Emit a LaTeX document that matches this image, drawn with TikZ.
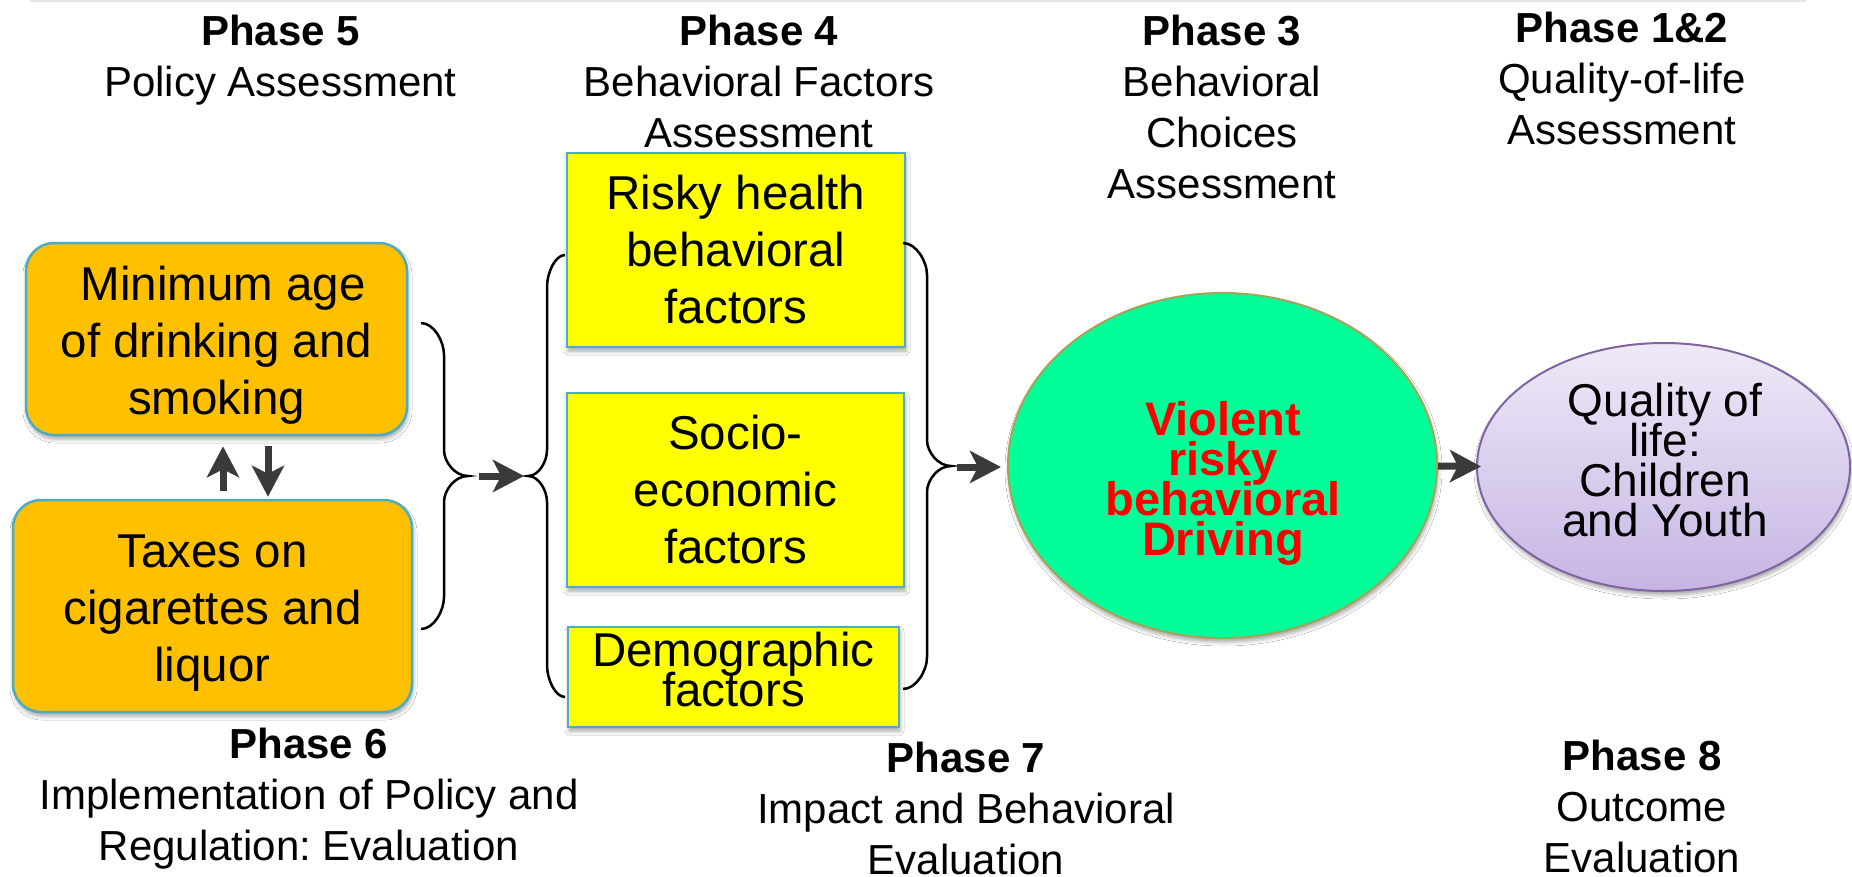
\documentclass[tikz,border=0pt]{standalone}
\usepackage{fontspec}
\setmainfont{Liberation Sans}
\usetikzlibrary{arrows.meta,calc,shapes.geometric,shadows.blur}
\frenchspacing

\definecolor{policyfill}{HTML}{FFC000}
\definecolor{factorfill}{HTML}{FFFF00}
\definecolor{boxedge}{HTML}{4BACC6}
\definecolor{choicefill}{HTML}{00FF99}
\definecolor{choiceedge}{HTML}{A3A35A}
\definecolor{lifetop}{HTML}{EFE9F7}
\definecolor{lifebottom}{HTML}{C6B5E4}
\definecolor{lifeedge}{HTML}{8064A2}
\definecolor{arrowgrey}{HTML}{3A3A3A}
\definecolor{ruleline}{HTML}{E6E6E6}

% lines closer together than the font's natural leading
\newcommand\tightlines{\lineskiplimit=-100pt\relax}
% invisible struts that shift a text block inside its box
\newcommand\liftline{\rule{0pt}{46pt}}
\newcommand\dropline{\rule[-14.6pt]{0pt}{0pt}}

\tikzset{
  heading/.style={anchor=base, inner sep=0pt, font=\fontsize{42}{51}\selectfont},
  softshadow/.style={blur shadow={shadow xshift=1pt, shadow yshift=-4pt,
      shadow blur radius=4pt, shadow opacity=35}},
  boxtext/.style={align=center, inner sep=0pt,
      font=\fontsize{47.5}{57}\selectfont\tightlines},
  policybox/.style={boxtext, draw=boxedge, line width=2.5pt, fill=policyfill,
      rounded corners=28pt, softshadow},
  factorbox/.style={boxtext, draw=boxedge, line width=2pt, fill=factorfill, softshadow},
  ovaltext/.style={align=center, inner sep=0pt,
      font=\fontsize{47}{40}\selectfont\tightlines},
  flowarrow/.style={draw=arrowgrey, line width=7pt,
      -{Stealth[length=31pt, width=32pt, inset=8pt]}},
  bracestroke/.style={draw=black, line width=2.5pt},
}

\begin{document}
\begin{tikzpicture}[x=1pt, y=-1pt]
\fill[white] (0,0) rectangle (1852,876);
\useasboundingbox (0,0) rectangle (1852,876);
\draw[ruleline, line width=2pt] (30,1) -- (1806,1);

% phase headings, top row
\node[heading] (ph5) at (280.5,45)
  {\begin{tabular}[t]{@{}c@{}}\textbf{Phase 5}\\Policy Assessment\end{tabular}};
\node[heading] (ph4) at (759,45)
  {\begin{tabular}[t]{@{}c@{}}\textbf{Phase 4}\\Behavioral Factors\\Assessment\end{tabular}};
\node[heading] (ph3) at (1222,45)
  {\begin{tabular}[t]{@{}c@{}}\textbf{Phase 3}\\Behavioral\\Choices\\Assessment\end{tabular}};
\node[heading] (ph12) at (1622,42)
  {\begin{tabular}[t]{@{}c@{}}\textbf{Phase 1\&2}\\Quality-of-life\\Assessment\end{tabular}};

% phase headings, bottom row
\node[heading] (ph6) at (309,758)
  {\begin{tabular}[t]{@{}c@{}}\textbf{Phase 6}\\Implementation of Policy and\\Regulation: Evaluation\end{tabular}};
\node[heading] (ph7) at (966,772)
  {\begin{tabular}[t]{@{}c@{}}\textbf{Phase 7}\\Impact and Behavioral\\Evaluation\end{tabular}};
\node[heading] (ph8) at (1642,770)
  {\begin{tabular}[t]{@{}c@{}}\textbf{Phase 8}\\Outcome\\Evaluation\end{tabular}};

% policy boxes
\node[policybox, minimum width=381pt, minimum height=192pt] (agebox) at (216.5,339)
  {~Minimum age\liftline\\of drinking and\\smoking};
\node[policybox, minimum width=399pt, minimum height=212pt] (taxbox) at (212.5,606)
  {Taxes on\liftline\\cigarettes and\\liquor};

% factor boxes
\node[factorbox, minimum width=338pt, minimum height=194pt] (riskbox) at (736,250)
  {Risky health\\behavioral\\factors};
\node[factorbox, minimum width=337pt, minimum height=194pt] (socbox) at (735.5,490)
  {Socio-\\economic\\factors};
\node[factorbox, minimum width=331pt, minimum height=100pt,
      font=\fontsize{47.5}{40}\selectfont\tightlines] (demobox) at (733.5,677)
  {Demographic\\factors\dropline};

% behaviour and outcome ovals
\node[ellipse, draw=choiceedge, line width=2pt, fill=choicefill, inner sep=0pt,
      minimum width=429pt, minimum height=345pt, softshadow] (choice) at (1222.5,465.5) {};
\node[ovaltext, text=red, font=\fontsize{47}{40}\selectfont\bfseries\tightlines]
  (choicetext) at ($(choice.center)+(0.5,17.5)$)
  {Violent\\risky\\behavioral\\Driving};

\node[ellipse, draw=lifeedge, line width=2pt, top color=lifetop, bottom color=lifebottom,
      inner sep=0pt, minimum width=373pt, minimum height=248pt, softshadow] (life) at (1663.5,467) {};
\node[ovaltext, font=\fontsize{46}{40}\selectfont\tightlines] (lifetext) at ($(life.center)+(1.5,-7)$)
  {Quality of\\life:\\Children\\and Youth};

% braces grouping the boxes
\coordinate (policytip) at (468,476);
\coordinate (factorin) at (528,476);
\coordinate (factorout) at (951,466);
\path[bracestroke] (421,323) .. controls +(12.7,0) and +(0,-14) .. (444,355)
  -- (444,450) .. controls +(0,12) and +(-13,0) .. (policytip)
  .. controls +(-13,0) and +(0,-12) .. (444,502)
  -- (444,597) .. controls +(0,14) and +(12.7,0) .. (421,629);
\path[bracestroke] (565,255) .. controls +(-10,0) and +(0,-14) .. (547,287)
  -- (547,450) .. controls +(0,12) and +(10.5,0) .. (factorin)
  .. controls +(10.5,0) and +(0,-12) .. (547,502)
  -- (547,665) .. controls +(0,14) and +(-10,0) .. (565,697);
\path[bracestroke] (903,243) .. controls +(13,0) and +(0,-14) .. (927,275)
  -- (927,440) .. controls +(0,12) and +(-13,0) .. (factorout)
  .. controls +(-13,0) and +(0,-12) .. (927,492)
  -- (927,657) .. controls +(0,14) and +(13,0) .. (903,689);

% arrows
\draw[flowarrow] ($(taxbox.north)+(10.5,-8)$) -- ($(agebox.south)+(6.5,10)$);
\draw[flowarrow] ($(agebox.south)+(51.5,10)$) -- ($(taxbox.north)+(55.5,-2)$);
\draw[flowarrow] ($(policytip)+(11,0)$) -- ($(factorin)+(-4,0)$);
\draw[flowarrow] ($(factorout)+(6,1)$) -- ($(choice.west)+(-6,1.5)$);
\draw[flowarrow] ($(choice.east)+(0,0.5)$) -- ($(life.west)+(5,-0.5)$);
\end{tikzpicture}
\end{document}
